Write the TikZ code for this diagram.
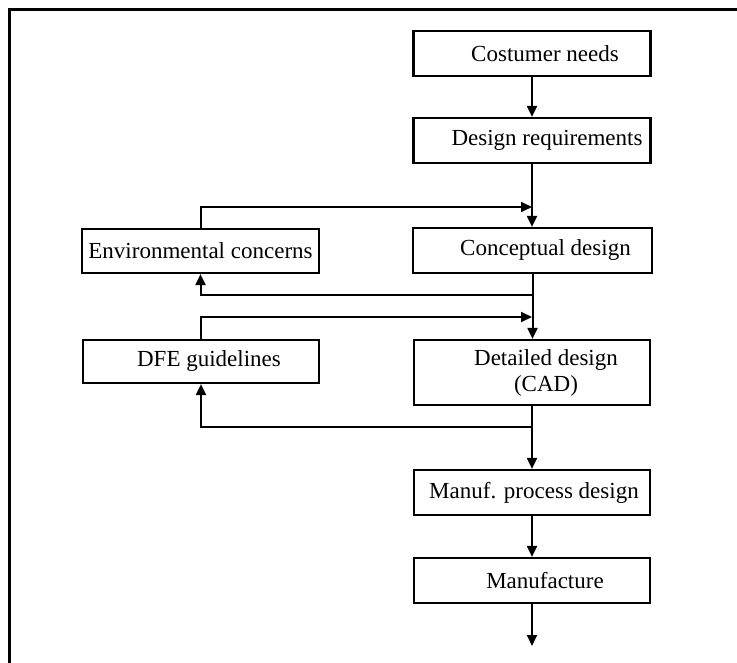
\documentclass[tikz,border=0pt]{standalone}
\usepackage{fontspec}
\setmainfont{Liberation Serif}
\usetikzlibrary{arrows.meta}
\begin{document}
\begin{tikzpicture}[x=1pt,y=-1pt,
  line width=2pt,
  box/.style={draw, line width=2.2pt, rectangle, inner sep=0pt,
              minimum width=237pt, minimum height=45pt},
  txt/.style={font=\fontsize{23}{26}\selectfont, align=center, inner sep=0pt},
  arr/.style={-{Triangle[length=11pt,width=10pt]}}]
  \useasboundingbox (0,0) rectangle (737,663);

  % open frame: top and left edges only
  \draw[line width=2.4pt] (737,9.5) -- (9.5,9.5) -- (9.5,663);

  % main column of process steps
  \node[box, label={[txt, xshift=13pt]center:Costumer needs}] (cn) at (532,53.5) {};
  \node[box, label={[txt, xshift=15pt]center:Design requirements}] (dr) at (532,140.5) {};
  \node[box, minimum width=239pt, label={[txt, xshift=13pt]center:Conceptual design}] (cd) at (532.5,250.5) {};
  \node[box, minimum width=236pt, minimum height=65pt,
        label={[txt, xshift=14pt]center:Detailed design\\(CAD)}] (dd) at (532,372.5) {};
  \node[box, minimum width=236pt, label={[txt, xshift=2pt]center:Manuf. process design}] (mp) at (532,492.5) {};
  \node[box, minimum width=236pt, label={[txt, xshift=13pt]center:Manufacture}] (mf) at (532,580.5) {};

  % side inputs
  \node[box, minimum height=44pt, label={[txt]center:Environmental concerns}] (env) at (200.5,251) {};
  \node[box, minimum width=236pt, minimum height=43pt, label={[txt, xshift=8pt]center:DFE guidelines}] (dfe) at (201,361.5) {};

  % junction points on the main flow line
  \coordinate (m1) at (532,207);
  \coordinate (r1) at (532,295);
  \coordinate (m2) at (532,317);
  \coordinate (r2) at (532,427);
  \coordinate (out) at (532,646);

  % main flow
  \draw[arr] (cn.south) -- (cn.south |- dr.north);
  \draw[arr] (dr.south) -- (dr.south |- cd.north);
  \draw[arr] (cd.south) -- (cd.south |- dd.north);
  \draw[arr] (dd.south) -- (dd.south |- mp.north);
  \draw[arr] (mp.south) -- (mp.south |- mf.north);
  \draw[arr] (mf.south) -- (out);

  % feedback loops
  \draw[arr] (env.north) |- (m1);
  \draw[arr] (r1) -| (env.south);
  \draw[arr] (dfe.north) |- (m2);
  \draw[arr] (r2) -| (dfe.south);
\end{tikzpicture}
\end{document}
